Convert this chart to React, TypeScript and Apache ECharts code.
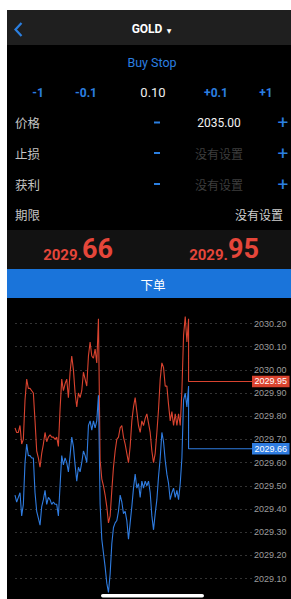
import React, { useEffect, useRef } from "react";
import * as echarts from "echarts";

// Ask (red) and bid (blue) tick prices, oldest to newest
const askPrices = [
  2029.75, 2029.73, 2029.73, 2029.76, 2029.68, 2029.70, 2029.87, 2029.96, 2029.92, 2029.92,
  2029.91, 2029.90, 2029.78, 2029.65, 2029.62, 2029.58, 2029.64, 2029.68, 2029.73, 2029.69,
  2029.71, 2029.72, 2029.71, 2029.71, 2029.70, 2029.71, 2029.67, 2029.83, 2029.96, 2029.91,
  2029.94, 2029.96, 2029.88, 2029.99, 2030.06, 2030.00, 2029.90, 2029.84, 2029.90, 2029.88,
  2029.91, 2029.99, 2029.96, 2029.93, 2030.06, 2030.12, 2030.06, 2030.05, 2030.09, 2030.03,
  2030.22, 2029.61, 2029.53, 2029.50, 2029.46, 2029.41, 2029.34, 2029.37, 2029.48, 2029.58,
  2029.65, 2029.70, 2029.71, 2029.75, 2029.76, 2029.71, 2029.68, 2029.64, 2029.60, 2029.67,
  2029.78, 2029.84, 2029.88, 2029.82, 2029.76, 2029.73, 2029.78, 2029.76, 2029.79, 2029.81,
  2029.77, 2029.73, 2029.65, 2029.60, 2029.64, 2029.73, 2029.83, 2029.96, 2030.03, 2030.01,
  2029.93, 2029.93, 2029.85, 2029.78, 2029.82, 2029.76, 2029.81, 2029.76, 2029.81, 2029.76,
  2029.91, 2030.15, 2030.23, 2030.12, 2030.22,
];

const bidPrices = [
  2029.46, 2029.43, 2029.45, 2029.47, 2029.37, 2029.42, 2029.60, 2029.68, 2029.63, 2029.63,
  2029.62, 2029.62, 2029.47, 2029.39, 2029.36, 2029.33, 2029.41, 2029.44, 2029.48, 2029.42,
  2029.45, 2029.44, 2029.42, 2029.43, 2029.42, 2029.42, 2029.37, 2029.50, 2029.63, 2029.59,
  2029.62, 2029.60, 2029.56, 2029.63, 2029.71, 2029.67, 2029.59, 2029.52, 2029.58, 2029.56,
  2029.60, 2029.65, 2029.63, 2029.60, 2029.76, 2029.78, 2029.74, 2029.78, 2029.75, 2029.78,
  2029.89, 2029.42, 2029.27, 2029.21, 2029.15, 2029.08, 2029.04, 2029.12, 2029.25, 2029.32,
  2029.34, 2029.35, 2029.39, 2029.46, 2029.43, 2029.38, 2029.39, 2029.35, 2029.27, 2029.34,
  2029.41, 2029.49, 2029.55, 2029.49, 2029.51, 2029.45, 2029.52, 2029.49, 2029.52, 2029.50,
  2029.52, 2029.47, 2029.37, 2029.31, 2029.38, 2029.44, 2029.54, 2029.62, 2029.73, 2029.69,
  2029.61, 2029.55, 2029.51, 2029.44, 2029.47, 2029.49, 2029.45, 2029.48, 2029.44, 2029.51,
  2029.62, 2029.87, 2029.90, 2029.84, 2029.93,
];

const askNow = 2029.95;
const bidNow = 2029.66;
const priceSteps = ["-1", "-0.1", "0.10", "+0.1", "+1"];
const orderType = "Buy Stop";
const symbol = "GOLD";
const fieldLabels = ["价格", "止损", "获利", "期限"];
const fieldValues = ["2035.00", "没有设置", "没有设置", "没有设置"];
const yMin = 2029.1;
const yMax = 2030.2;
const yStep = 0.1;
const horizon = 142; // x index where the current-price lines end

const BLUE = "#2b7fe0";
const RED = "#e5463a";
const CJK = "'Noto Sans CJK SC', sans-serif";
const SANS = "Roboto, 'Liberation Sans', sans-serif";

function priceText(v: number, x: number) {
  const s = v.toFixed(2);
  const head = s.slice(0, s.length - 2);
  const tail = s.slice(s.length - 2);
  return {
    type: "text",
    x,
    y: 249,
    style: {
      text: `{s|${head}}{b|${tail}}`,
      align: "center",
      verticalAlign: "middle",
      rich: {
        s: { fontSize: 15, fontWeight: "bold", fill: RED, fontFamily: SANS, verticalAlign: "bottom", lineHeight: 26 },
        b: { fontSize: 27, fontWeight: "bold", fill: RED, fontFamily: SANS, verticalAlign: "bottom", lineHeight: 26 },
      },
    },
  };
}

export default function App() {
  const ref = useRef<HTMLDivElement>(null);
  useEffect(() => {
    if (!ref.current) return;
    const chart = echarts.init(ref.current, null, { renderer: "svg" });

    const stepX = [38, 86, 153, 216, 266];
    const rowY = [122.5, 153, 184, 214];

    const graphics: any[] = [
      { type: "rect", shape: { x: 0, y: 0, width: 7, height: 599 }, style: { fill: "#fff" } },
      { type: "rect", shape: { x: 0, y: 0, width: 291, height: 10 }, style: { fill: "#fff" } },
      { type: "rect", shape: { x: 7, y: 10, width: 284, height: 35 }, style: { fill: "#1f1f1f" } },
      { type: "rect", shape: { x: 7, y: 230, width: 284, height: 39 }, style: { fill: "#121212" } },
      { type: "rect", shape: { x: 7, y: 269, width: 284, height: 29 }, style: { fill: "#1a74da" } },
      { type: "rect", shape: { x: 101, y: 594, width: 103, height: 3.5, r: 1.75 }, style: { fill: "#fff" } },
      {
        type: "polyline",
        shape: { points: [[21.5, 23], [15.5, 29.5], [21.5, 36]] },
        style: { stroke: BLUE, lineWidth: 2.2, fill: null },
      },
      { type: "text", x: 147, y: 29, style: { text: symbol, fill: "#fff", fontSize: 12, fontWeight: "bold", fontFamily: SANS, align: "center", verticalAlign: "middle" } },
      { type: "text", x: 169, y: 30, style: { text: "▼", fill: "#fff", fontSize: 6, fontFamily: "'DejaVu Sans'", align: "center", verticalAlign: "middle" } },
      { type: "text", x: 152, y: 62, style: { text: orderType, fill: BLUE, fontSize: 12.5, fontFamily: SANS, align: "center", verticalAlign: "middle" } },
      ...priceSteps.map((t, i) => ({
        type: "text",
        x: stepX[i],
        y: 92.5,
        style: {
          text: t,
          fill: i === 2 ? "#eee" : BLUE,
          fontSize: i === 2 ? 13 : 12,
          fontWeight: i === 2 ? "normal" : "bold",
          fontFamily: SANS,
          align: "center",
          verticalAlign: "middle",
        },
      })),
      ...fieldLabels.map((t, i) => ({
        type: "text",
        x: 15,
        y: rowY[i],
        style: { text: t, fill: "#c4c4c4", fontSize: 12.5, fontFamily: CJK, align: "left", verticalAlign: "middle" },
      })),
      ...fieldValues.map((t, i) => ({
        type: "text",
        x: i === 3 ? 283 : 219,
        y: rowY[i],
        style: {
          text: t,
          fill: i === 0 ? "#f2f2f2" : i === 3 ? "#cfcfcf" : "#3d3d3d",
          fontSize: 12,
          fontFamily: i === 0 ? SANS : CJK,
          align: i === 3 ? "right" : "center",
          verticalAlign: "middle",
        },
      })),
      ...[0, 1, 2].flatMap((i) => [
        { type: "rect", shape: { x: 154, y: rowY[i] - 1, width: 6, height: 2 }, style: { fill: BLUE } },
        { type: "text", x: 283, y: rowY[i], style: { text: "+", fill: BLUE, fontSize: 19, fontFamily: SANS, align: "center", verticalAlign: "middle" } },
      ]),
      priceText(bidNow, 78),
      priceText(askNow, 224),
      { type: "text", x: 153, y: 284, style: { text: "下单", fill: "#fff", fontSize: 12.5, fontFamily: CJK, align: "center", verticalAlign: "middle" } },
    ];

    const line = (vals: number[], now: number, color: string) => ({
      type: "line",
      data: vals.map((v, i) => [i, v]).concat([[vals.length - 1, now], [horizon, now]]),
      showSymbol: false,
      symbol: "none",
      clip: false,
      lineStyle: { color, width: 1.1 },
      z: 5,
      endLabel: {
        show: true,
        formatter: () => now.toFixed(2),
        backgroundColor: color,
        color: "#fff",
        fontSize: 9,
        fontFamily: "'Liberation Sans', sans-serif",
        padding: [1.5, 2.5, 1, 2.5],
        distance: 0,
      },
    });

    chart.setOption({
      animation: false,
      backgroundColor: "#000",
      graphic: graphics,
      grid: { left: 15, right: 39, top: 323.5, height: 255 },
      xAxis: { type: "value", min: 0, max: horizon, show: false },
      yAxis: {
        type: "value",
        position: "right",
        min: yMin,
        max: yMax,
        interval: yStep,
        axisLine: { show: false },
        axisTick: { show: false },
        axisLabel: {
          color: "#9c9c9c",
          fontSize: 9,
          margin: 2,
          fontFamily: "'Liberation Sans', sans-serif",
          formatter: (v: number) => v.toFixed(2),
        },
        splitLine: { show: true, lineStyle: { color: "#333", type: [2, 3], width: 1 } },
      },
      series: [line(askPrices, askNow, "#d9432f"), line(bidPrices, bidNow, "#2f7ce0")],
    });
    return () => chart.dispose();
  }, []);

  return (
    <div
      ref={ref}
      style={{ position: "fixed", left: 0, top: 0, width: 291, height: 599 }}
    />
  );
}
